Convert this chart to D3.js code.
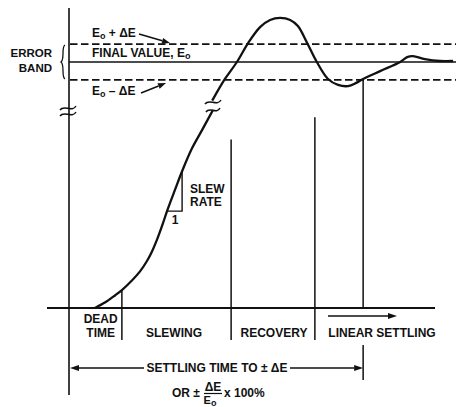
<!DOCTYPE html>
<html><head><meta charset="utf-8">
<script src="https://cdn.jsdelivr.net/npm/d3@7/dist/d3.min.js"></script>
<style>body{margin:0;background:#fff}svg{display:block}text{font-family:"Liberation Sans",Arial,sans-serif;font-weight:bold;fill:#111}</style>
</head><body>
<script>
// ---- data (time in arbitrary units 0..100, output normalised to final value E0 = 1) ----
const rampTime   = [6.7, 9.3, 11.9, 13.7, 16.3, 18.4, 20.2, 21.5, 22.8, 24.4, 25.4, 27.5, 29.3, 31.9, 34.5, 37.3];
const rampValue  = [0, 0.022, 0.051, 0.073, 0.112, 0.149, 0.191, 0.230, 0.278, 0.347, 0.394, 0.482, 0.556, 0.650, 0.724, 0.805];
const settleTime  = [37.1, 40.4, 43.5, 46.4, 49.5, 52.1, 54.7, 57.3, 59.3, 61.7, 64.2, 67.1, 69.7, 72.3, 74.4, 76.2, 80.6, 85.8, 87.6, 89.1, 92.2, 96.1, 99.5];
const settleValue = [0.843, 0.931, 1.0, 1.077, 1.142, 1.171, 1.179, 1.171, 1.146, 1.077, 1.0, 0.931, 0.907, 0.902, 0.915, 0.931, 0.963, 1.0, 1.020, 1.024, 1.012, 1.004, 1.004];
const finalValue = 1;
const deltaE = 0.073;
const phaseBounds = [13.7, 42.0, 63.7];          // dead time | slewing | recovery | linear settling
const phaseTops   = [0.073, 0.685, 0.775];        // where the boundary lines start
const settleAt = 76.2;
const phaseLabels = [
  {t: 8.2,  lines: ["DEAD", "TIME"]},
  {t: 27.2, lines: ["SLEWING"]},
  {t: 53.1, lines: ["RECOVERY"]},
  {t: 81.1, lines: ["LINEAR SETTLING"]}
];
const slewTri = {t0: 25.4, t1: 29.3, v0: 0.394, v1: 0.556};

// ---- scales ----
const W = 456, H = 407;
const x = d3.scaleLinear().domain([0, 100]).range([69, 455]);
const y = d3.scaleLinear().domain([0, 1]).range([308, 62]);

const svg = d3.select("body").append("svg").attr("width", W).attr("height", H);
const ink = "#111";
const FS = 12;

function arrow(x1, y1, x2, y2, len = 8, wid = 3) {
  const a = Math.atan2(y2 - y1, x2 - x1);
  const bx = x2 - len * Math.cos(a), by = y2 - len * Math.sin(a);
  svg.append("line").attr("x1", x1).attr("y1", y1).attr("x2", bx).attr("y2", by)
    .attr("stroke", ink).attr("stroke-width", 1.5);
  const px = -Math.sin(a) * wid, py = Math.cos(a) * wid;
  svg.append("path").attr("d", `M${x2},${y2}L${bx + px},${by + py}L${bx - px},${by - py}Z`).attr("fill", ink);
}
function tilde(cx, cy, hw) {
  svg.append("path")
    .attr("d", `M${cx - hw},${cy + 2} C${cx - hw / 2},${cy - 4} ${cx + hw / 2},${cy + 5} ${cx + hw},${cy - 2}`)
    .attr("fill", "none").attr("stroke", ink).attr("stroke-width", 1.5);
}

// axes
svg.append("line").attr("x1", x(0)).attr("x2", x(0)).attr("y1", 8).attr("y2", 395)
  .attr("stroke", ink).attr("stroke-width", 1.6);
svg.append("line").attr("x1", 47).attr("x2", 435).attr("y1", y(0)).attr("y2", y(0))
  .attr("stroke", ink).attr("stroke-width", 2);

// error band
svg.append("line").attr("x1", x(0)).attr("x2", W).attr("y1", y(finalValue)).attr("y2", y(finalValue))
  .attr("stroke", ink).attr("stroke-width", 1.5);
[finalValue + deltaE, finalValue - deltaE].forEach(v => {
  svg.append("line").attr("x1", x(0) + 1).attr("x2", W).attr("y1", y(v)).attr("y2", y(v))
    .attr("stroke", ink).attr("stroke-width", 1.8).attr("stroke-dasharray", "7.5,3.5");
});

// phase boundaries
phaseBounds.forEach((t, i) => {
  svg.append("line").attr("x1", x(t)).attr("x2", x(t)).attr("y1", y(phaseTops[i])).attr("y2", 340)
    .attr("stroke", ink).attr("stroke-width", 1.5);
});
svg.append("line").attr("x1", x(settleAt)).attr("x2", x(settleAt)).attr("y1", y(finalValue - deltaE)).attr("y2", y(0))
  .attr("stroke", ink).attr("stroke-width", 1.5);
svg.append("line").attr("x1", x(settleAt)).attr("x2", x(settleAt)).attr("y1", 345).attr("y2", 380)
  .attr("stroke", ink).attr("stroke-width", 1.5);

// response curve
const line = d3.line().x(d => x(d[0])).y(d => y(d[1])).curve(d3.curveCatmullRom.alpha(0.5));
svg.append("path").attr("d", line(d3.zip(rampTime, rampValue)))
  .attr("fill", "none").attr("stroke", ink).attr("stroke-width", 2.3);
svg.append("path").attr("d", line(d3.zip(settleTime, settleValue)))
  .attr("fill", "none").attr("stroke", ink).attr("stroke-width", 2.3);

// break marks
tilde(x(0) - 1, 108, 8);
tilde(x(0) - 1, 114, 8);
tilde(x(37.3), 102, 8);
tilde(x(37.3), 110, 7);

// slew triangle
svg.append("path")
  .attr("d", `M${x(slewTri.t0)},${y(slewTri.v0)}H${x(slewTri.t1)}V${y(slewTri.v1)}`)
  .attr("fill", "none").attr("stroke", ink).attr("stroke-width", 1.4);
svg.append("text").attr("x", x(slewTri.t0) + 8).attr("y", y(slewTri.v0) + 13)
  .attr("text-anchor", "middle").attr("font-size", FS).text("1");
svg.append("text").attr("x", 190).attr("y", 193).attr("font-size", FS).text("SLEW");
svg.append("text").attr("x", 190).attr("y", 206).attr("font-size", FS).text("RATE");

// error band labels
function sub(t, parts) {
  parts.forEach(p => {
    const s = t.append("tspan").text(p[0]);
    if (p[1]) s.attr("font-size", 9).attr("dy", 2); else if (p[2]) s.attr("dy", -2);
  });
}
let t1 = svg.append("text").attr("x", 92).attr("y", 37).attr("font-size", FS);
sub(t1, [["E"], ["o", true], [" + ΔE", false, true]]);
arrow(139, 34, 170, 43);
let t2 = svg.append("text").attr("x", 92).attr("y", 57).attr("font-size", FS);
sub(t2, [["FINAL VALUE, E"], ["o", true]]);
let t3 = svg.append("text").attr("x", 92).attr("y", 95).attr("font-size", FS);
sub(t3, [["E"], ["o", true], [" – ΔE", false, true]]);
arrow(141, 93, 166, 83);

svg.append("text").attr("x", 52).attr("y", 57).attr("text-anchor", "end").attr("font-size", 11.5).text("ERROR");
svg.append("text").attr("x", 52).attr("y", 72).attr("text-anchor", "end").attr("font-size", 11.5).text("BAND");
// curly brace
const bx = 63, b0 = y(finalValue + deltaE) + 1, b1 = y(finalValue - deltaE) - 1, bm = y(finalValue);
svg.append("path")
  .attr("d", `M${bx + 2},${b0} C${bx - 2},${b0 + 2} ${bx + 2},${bm - 3} ${bx - 2},${bm} C${bx + 2},${bm + 3} ${bx - 2},${b1 - 2} ${bx + 2},${b1}`)
  .attr("fill", "none").attr("stroke", ink).attr("stroke-width", 1.3);

// phase labels
phaseLabels.forEach(p => {
  p.lines.forEach((l, i) => {
    svg.append("text").attr("x", x(p.t)).attr("y", 337 - (p.lines.length - 1 - i) * 14)
      .attr("text-anchor", "middle").attr("font-size", FS).text(l);
  });
});
arrow(328, 316, 397, 316, 9, 3);

// settling time
const stY = 368;
svg.append("text").attr("x", 217).attr("y", stY + 4).attr("text-anchor", "middle").attr("font-size", FS)
  .text("SETTLING TIME TO ± ΔE");
arrow(144, stY, x(0) + 1, stY, 9, 3);
arrow(290, stY, x(settleAt), stY, 9, 3);

svg.append("text").attr("x", 172).attr("y", 397).attr("font-size", FS).text("OR ±");
svg.append("text").attr("x", 213).attr("y", 391).attr("text-anchor", "middle").attr("font-size", FS).text("ΔE");
svg.append("line").attr("x1", 204).attr("x2", 222).attr("y1", 393.5).attr("y2", 393.5).attr("stroke", ink).attr("stroke-width", 1.2);
let t4 = svg.append("text").attr("x", 210).attr("y", 404).attr("text-anchor", "middle").attr("font-size", 11);
sub(t4, [["E"], ["o", true]]);
svg.append("text").attr("x", 224).attr("y", 397).attr("font-size", FS).text("x 100%");
</script>
</body></html>
